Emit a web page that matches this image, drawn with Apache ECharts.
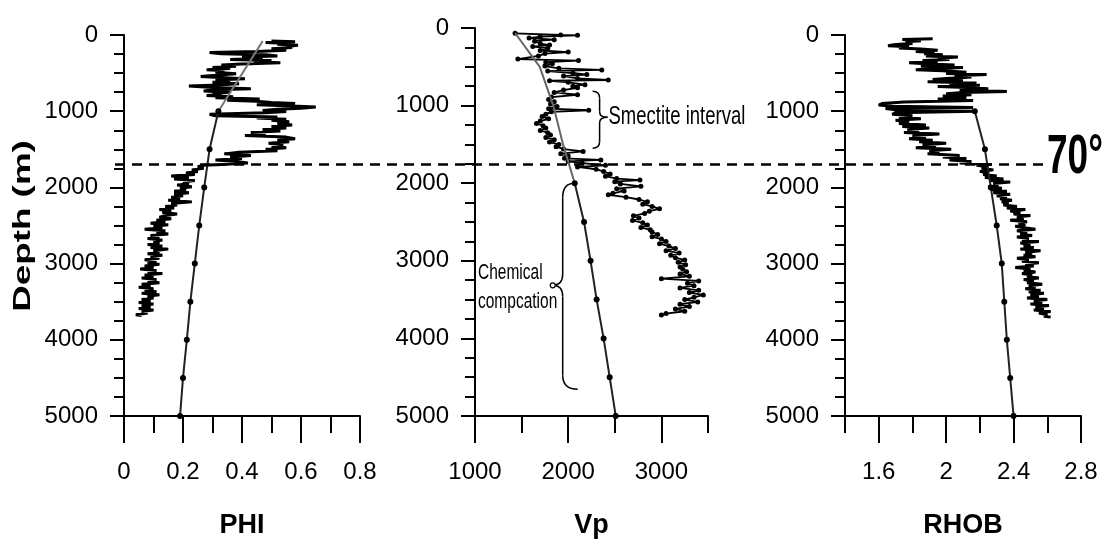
<!DOCTYPE html>
<html><head><meta charset="utf-8">
<script src="https://cdn.jsdelivr.net/npm/echarts@6/dist/echarts.min.js"></script>
<style>html,body{margin:0;padding:0;background:#fff}#c{width:1105px;height:545px}</style>
</head><body><div id="c"></div>
<script>
// ---------- data (depth m, value) ----------
const phiMajor = [0, 0.2, 0.4, 0.6, 0.8];
const phiMinor = [0.1, 0.3, 0.5, 0.7];
const vpMajor = [1000, 2000, 3000];
const vpMinor = [1500, 2500, 3500];
const rhobMajor = [1.6, 2, 2.4, 2.8];
const rhobMinor = [1.4, 1.8, 2.2, 2.6];
const xTitles = ['PHI', 'Vp', 'RHOB'];

const phiTrendUpper = [[80, 0.47], [1000, 0.32]];
const phiTrend = [[1000, 0.32], [1500, 0.29], [2000, 0.272], [2500, 0.255], [3000, 0.24], [3500, 0.225], [4000, 0.213], [4500, 0.2], [5000, 0.19]];
const vpTrendUpper = [[64, 1430], [500, 1695], [1000, 1840], [1500, 1945], [2000, 2070]];
const vpTrend = [[2000, 2070], [2500, 2170], [3000, 2240], [3500, 2305], [4000, 2380], [4500, 2445], [5000, 2510]];
const rhobTrend = [[1000, 2.17], [1500, 2.23], [2000, 2.265], [2500, 2.30], [3000, 2.33], [3500, 2.345], [4000, 2.36], [4500, 2.38], [5000, 2.40]];

const phiLog = [
[80,0.50],[90,0.58],[100,0.48],[110,0.56],[120,0.52],[135,0.59],[150,0.55],[165,0.57],[180,0.50],[200,0.55],
[215,0.45],[230,0.29],[245,0.33],[260,0.48],[275,0.52],[290,0.40],[305,0.47],[320,0.36],[335,0.50],[350,0.44],
[365,0.53],[380,0.40],[395,0.33],[410,0.38],[425,0.30],[440,0.36],[455,0.28],[470,0.34],[490,0.31],[510,0.38],
[530,0.30],[545,0.26],[560,0.34],[575,0.41],[590,0.31],[605,0.36],[620,0.30],[640,0.39],[655,0.32],[670,0.22],
[690,0.30],[705,0.43],[720,0.31],[735,0.27],[750,0.36],[765,0.30],[780,0.33],[795,0.28],[810,0.37],[825,0.31],
[840,0.46],[855,0.35],[870,0.45],[885,0.50],[900,0.58],[915,0.45],[930,0.55],[945,0.65],[960,0.60],[975,0.52],
[990,0.47],[1005,0.55],[1020,0.48],[1040,0.29],[1060,0.31],[1075,0.52],[1090,0.45],[1105,0.55],[1120,0.50],[1140,0.56],
[1160,0.52],[1180,0.57],[1200,0.50],[1220,0.55],[1240,0.47],[1260,0.53],[1280,0.43],[1300,0.48],[1320,0.41],[1340,0.55],
[1360,0.58],[1380,0.52],[1400,0.56],[1420,0.49],[1440,0.54],[1460,0.50],[1480,0.55],[1500,0.48],[1520,0.52],[1540,0.39],
[1560,0.34],[1580,0.43],[1600,0.36],[1620,0.40],[1640,0.31],[1660,0.38],[1680,0.42],[1700,0.33],[1710,0.27],[1730,0.25],
[1750,0.27],[1770,0.23],[1790,0.25],[1810,0.21],[1830,0.24],[1850,0.16],[1870,0.22],[1890,0.17],[1910,0.24],[1930,0.20],
[1950,0.22],[1970,0.18],[1990,0.23],[2010,0.19],[2030,0.21],[2050,0.17],[2070,0.22],[2090,0.17],[2110,0.20],[2130,0.16],
[2150,0.19],[2170,0.15],[2190,0.23],[2210,0.16],[2230,0.18],[2250,0.14],[2270,0.17],[2290,0.12],[2310,0.16],[2330,0.13],
[2350,0.18],[2370,0.14],[2390,0.12],[2410,0.16],[2430,0.11],[2450,0.14],[2470,0.09],[2490,0.15],[2510,0.10],[2530,0.13],
[2550,0.07],[2570,0.14],[2590,0.11],[2610,0.15],[2630,0.09],[2650,0.12],[2670,0.08],[2690,0.13],[2710,0.10],[2730,0.12],
[2750,0.08],[2770,0.13],[2790,0.09],[2810,0.15],[2830,0.10],[2850,0.12],[2870,0.08],[2890,0.13],[2910,0.09],[2930,0.12],
[2950,0.07],[2970,0.11],[2990,0.08],[3010,0.12],[3030,0.07],[3050,0.10],[3070,0.055],[3090,0.11],[3110,0.08],[3130,0.13],
[3150,0.07],[3170,0.10],[3190,0.06],[3210,0.11],[3230,0.08],[3250,0.12],[3270,0.06],[3290,0.09],[3310,0.05],[3330,0.10],
[3350,0.07],[3370,0.11],[3390,0.06],[3410,0.12],[3430,0.08],[3450,0.10],[3470,0.06],[3490,0.09],[3510,0.05],[3530,0.10],
[3550,0.06],[3570,0.09],[3590,0.05],[3610,0.10],[3630,0.06],[3650,0.08],[3670,0.04],[3680,0.06]
];

const vpLog = [
[68,1430],[90,1920],[95,2100],[110,1700],[130,1580],[150,1850],[170,1640],[200,1700],[220,1800],[240,1620],
[260,1780],[290,1700],[310,2000],[330,1750],[360,1680],[400,1460],[420,2110],[440,1760],[460,1830],[490,1750],
[520,1900],[540,2360],[555,1780],[580,2050],[600,2200],[620,1950],[650,2100],[670,2430],[680,1800],[700,2000],
[730,2180],[750,2050],[770,2100],[800,1950],[830,1850],[860,2100],[890,1820],[920,1790],[950,1850],[980,1810],
[1010,1880],[1040,1790],[1060,2220],[1080,1820],[1110,1760],[1140,1720],[1170,1790],[1200,1700],[1230,1660],[1260,1730],
[1290,1760],[1320,1700],[1350,1780],[1380,1810],[1410,1760],[1440,1850],[1470,1800],[1500,1900],[1530,1870],[1560,1950],
[1590,2160],[1620,1920],[1650,2000],[1680,1960],[1700,2350],[1720,2000],[1740,2150],[1770,2400],[1790,2100],[1820,2300],
[1850,2380],[1880,2450],[1910,2400],[1940,2520],[1960,2770],[1980,2500],[2010,2560],[2040,2780],[2070,2520],[2100,2600],
[2130,2480],[2150,2430],[2180,2620],[2210,2760],[2240,2850],[2270,2800],[2300,2900],[2330,2980],[2360,2870],[2390,2820],
[2420,2700],[2450,2760],[2480,2690],[2510,2800],[2540,2850],[2570,2780],[2600,2880],[2630,2900],[2660,2960],[2690,2900],
[2720,3000],[2750,3050],[2780,2980],[2810,3080],[2840,3150],[2870,3050],[2900,3190],[2930,3100],[2960,3150],[2990,3250],
[3020,3180],[3050,3260],[3080,3200],[3110,3230],[3140,3270],[3170,3200],[3200,3300],[3230,3000],[3260,3400],[3290,3280],
[3320,3350],[3350,3200],[3380,3400],[3410,3300],[3440,3450],[3470,3350],[3500,3250],[3530,3390],[3560,3200],[3590,3300],
[3620,3150],[3650,3250],[3680,3050],[3700,3000]
];

const rhobLog = [
[50,1.92],[60,1.74],[75,1.85],[90,1.76],[110,1.80],[125,1.70],[140,1.655],[155,1.78],[170,1.72],[185,1.85],
[200,1.95],[215,1.82],[230,1.93],[245,1.87],[260,1.98],[275,1.88],[290,2.07],[305,1.95],[320,2.02],[335,1.86],
[350,1.95],[365,1.78],[380,1.90],[395,2.05],[410,1.85],[425,2.10],[440,1.96],[455,1.82],[470,1.98],[490,2.12],
[505,2.00],[520,2.24],[535,2.05],[550,2.15],[570,2.00],[585,1.92],[600,2.10],[615,1.89],[630,2.18],[645,2.02],
[660,2.20],[675,1.95],[690,2.12],[705,2.25],[720,2.08],[740,2.36],[755,2.10],[770,2.00],[785,2.15],[800,1.98],
[820,2.12],[840,1.95],[860,2.16],[880,1.75],[900,1.62],[920,1.60],[935,1.68],[950,2.16],[965,1.64],[980,1.70],
[1000,2.17],[1020,1.70],[1040,1.68],[1060,1.80],[1080,1.72],[1100,1.85],[1120,1.70],[1140,1.78],[1160,1.72],[1180,1.88],
[1200,1.74],[1220,1.90],[1240,1.77],[1260,1.84],[1280,1.75],[1300,1.96],[1320,1.80],[1340,1.88],[1360,1.78],[1380,1.92],
[1400,1.84],[1420,2.00],[1440,1.86],[1460,1.94],[1480,1.82],[1500,2.03],[1520,1.90],[1540,1.96],[1560,1.89],[1580,2.08],
[1600,1.98],[1620,2.12],[1640,2.02],[1660,2.15],[1680,2.08],[1700,2.27],[1710,2.18],[1730,2.25],[1750,2.21],[1770,2.28],
[1790,2.20],[1810,2.25],[1830,2.22],[1850,2.30],[1870,2.23],[1890,2.34],[1910,2.26],[1930,2.38],[1950,2.28],[1970,2.31],
[1990,2.25],[2010,2.33],[2030,2.27],[2050,2.36],[2070,2.28],[2090,2.38],[2110,2.30],[2130,2.36],[2150,2.32],[2170,2.39],
[2190,2.33],[2210,2.37],[2230,2.34],[2250,2.42],[2270,2.36],[2290,2.47],[2310,2.38],[2330,2.44],[2350,2.40],[2370,2.50],
[2390,2.42],[2410,2.46],[2430,2.38],[2450,2.48],[2470,2.43],[2490,2.47],[2510,2.41],[2530,2.46],[2550,2.53],[2570,2.42],
[2590,2.48],[2610,2.44],[2630,2.51],[2650,2.42],[2670,2.49],[2690,2.45],[2710,2.55],[2730,2.44],[2750,2.50],[2770,2.46],
[2790,2.52],[2810,2.44],[2830,2.56],[2850,2.47],[2870,2.51],[2890,2.46],[2910,2.53],[2930,2.42],[2950,2.49],[2970,2.45],
[2990,2.55],[3010,2.47],[3030,2.52],[3050,2.41],[3070,2.50],[3090,2.46],[3110,2.53],[3130,2.45],[3150,2.51],[3170,2.48],
[3190,2.55],[3210,2.46],[3230,2.52],[3250,2.48],[3270,2.57],[3290,2.49],[3310,2.53],[3330,2.47],[3350,2.56],[3370,2.49],
[3390,2.58],[3410,2.50],[3430,2.55],[3450,2.48],[3470,2.60],[3490,2.52],[3510,2.57],[3530,2.50],[3550,2.61],[3570,2.53],
[3590,2.58],[3610,2.52],[3630,2.62],[3650,2.55],[3670,2.60],[3690,2.58],[3700,2.62]
];

const boundaryDepth = 1700;
// annotation anchor points in Vp panel data coordinates [Vp, depth]
const smectiteBrace = {x0: 2262, x1: 2337, x2: 2422, top: 816, mid: 1151, bottom: 1550};
const chemBrace = {xTop: 2070, xV: 1941, xTip: 1834, xBot: 2102, top: 2001, mid: 3316, bottom: 4655};
const chemTextAt = [1032, 3335];

// ---------- chart ----------
const ARIAL = "'Liberation Sans',Arial,sans-serif";
const BLACK = '#000';
const toXY = arr => arr.map(p => [p[1], p[0]]);
const plain = v => String(Math.round(v * 1000) / 1000);

const grids = [
  {left: 124, top: 35, width: 236, height: 381},
  {left: 475, top: 28, width: 233, height: 388},
  {left: 845, top: 35, width: 236, height: 381}
];
const ranges = [[0, 0.8, phiMajor, phiMinor], [1000, 3500, vpMajor, vpMinor], [1.4, 2.8, rhobMajor, rhobMinor]];

const xAxes = [], yAxes = [];
ranges.forEach((r, g) => {
  xAxes.push({
    type: 'value', gridIndex: g, min: r[0], max: r[1], position: 'bottom',
    axisLine: {show: true, onZero: false, lineStyle: {color: BLACK, width: 2}},
    axisTick: {show: true, customValues: r[2], length: 27, lineStyle: {color: BLACK, width: 2}},
    axisLabel: {customValues: r[2], formatter: plain, margin: 44, fontSize: 24, color: BLACK, fontFamily: ARIAL},
    splitLine: {show: false},
    name: xTitles[g], nameLocation: 'middle', nameGap: 96,
    nameTextStyle: {fontSize: 27, fontWeight: 'bold', fontFamily: ARIAL, color: BLACK}
  });
  xAxes.push({
    type: 'value', gridIndex: g, min: r[0], max: r[1], position: 'bottom',
    axisLine: {show: false, onZero: false},
    axisTick: {show: true, customValues: r[3], length: 17, lineStyle: {color: BLACK, width: 2}},
    axisLabel: {show: false}, splitLine: {show: false}
  });
  yAxes.push({
    type: 'value', gridIndex: g, inverse: true, min: 0, max: 5000, interval: 1000,
    axisLine: {show: true, onZero: false, lineStyle: {color: BLACK, width: 2}},
    axisTick: {show: true, length: 14, lineStyle: {color: BLACK, width: 2}},
    minorTick: {show: true, splitNumber: 4, length: 10, lineStyle: {color: BLACK, width: 2}},
    axisLabel: {formatter: plain, margin: 26, fontSize: 24, color: BLACK, fontFamily: ARIAL},
    splitLine: {show: false}, minorSplitLine: {show: false}
  });
});

const logLine = (data, xi, yi, w) => ({
  type: 'line', xAxisIndex: xi, yAxisIndex: yi, data: toXY(data), showSymbol: false,
  lineStyle: {color: BLACK, width: w}, z: 2, silent: true
});
const trendLine = (data, xi, yi, color, marks) => ({
  type: 'line', xAxisIndex: xi, yAxisIndex: yi, data: toXY(data),
  showSymbol: marks, symbol: 'circle', symbolSize: 6,
  itemStyle: {color: BLACK}, lineStyle: {color: color, width: 2}, z: 4, silent: true
});

const series = [
  logLine(phiLog, 0, 0, 3),
  trendLine(phiTrendUpper, 0, 0, '#777', false),
  trendLine(phiTrend, 0, 0, '#222', true),
  {
    type: 'line', xAxisIndex: 2, yAxisIndex: 1, data: toXY(vpLog),
    symbol: 'circle', symbolSize: 5, itemStyle: {color: BLACK},
    lineStyle: {color: BLACK, width: 1.8}, z: 2, silent: true
  },
  trendLine(vpTrendUpper, 2, 1, '#666', false),
  trendLine(vpTrend, 2, 1, '#222', true),
  logLine(rhobLog, 4, 2, 3),
  trendLine(rhobTrend, 4, 2, '#222', true)
];

const chart = echarts.init(document.getElementById('c'), null, {renderer: 'canvas'});
chart.setOption({
  animation: false,
  backgroundColor: '#fff',
  grid: grids.map(g => Object.assign({outerBoundsMode: 'none', containLabel: false}, g)),
  xAxis: xAxes, yAxis: yAxes, series: series
});

// ---------- annotations (positions derived from the axes) ----------
const vpPx = (v, d) => chart.convertToPixel({xAxisIndex: 2, yAxisIndex: 1}, [v, d]);
const yB = chart.convertToPixel({xAxisIndex: 0, yAxisIndex: 0}, [0, boundaryDepth])[1];
const xStart = chart.convertToPixel({xAxisIndex: 0, yAxisIndex: 0}, [0, 0])[0] - 9;
const xEnd = chart.convertToPixel({xAxisIndex: 4, yAxisIndex: 2}, [2.8, 0])[0] - 36;

const stroke = {stroke: BLACK, lineWidth: 1.5, fill: null};
const seg = (x1, y1, x2, y2) => ({type: 'line', silent: true, z: 10, shape: {x1, y1, x2, y2}, style: stroke});
const curve = (x1, y1, cx, cy, x2, y2) => ({type: 'bezierCurve', silent: true, z: 10,
  shape: {x1, y1, cpx1: cx, cpy1: cy, x2, y2}, style: stroke});
// brace: ends at xe, spine at xs, tip at xt; r = corner radius
function brace(xeTop, xs, xt, xeBot, yT, yM, yB2, r) {
  return [
    curve(xeTop, yT, xs, yT, xs, yT + r),
    seg(xs, yT + r, xs, yM - r * 0.8),
    curve(xs, yM - r * 0.8, xs, yM, xt, yM),
    curve(xt, yM, xs, yM, xs, yM + r * 0.8),
    seg(xs, yM + r * 0.8, xs, yB2 - r),
    curve(xs, yB2 - r, xs, yB2, xeBot, yB2)
  ];
}

const s = smectiteBrace;
const sx0 = vpPx(s.x0, 0)[0], sx1 = vpPx(s.x1, 0)[0], sx2 = vpPx(s.x2, 0)[0];
const sTop = vpPx(s.x0, s.top)[1], sMid = vpPx(s.x0, s.mid)[1], sBot = vpPx(s.x0, s.bottom)[1];

const c = chemBrace;
const cxT = vpPx(c.xTop, 0)[0], cxV = vpPx(c.xV, 0)[0], cxTip = vpPx(c.xTip, 0)[0], cxB = vpPx(c.xBot, 0)[0];
const cTop = vpPx(c.xV, c.top)[1], cMid = vpPx(c.xV, c.mid)[1], cBot = vpPx(c.xV, c.bottom)[1];
const chemPos = vpPx(chemTextAt[0], chemTextAt[1]);

const graphics = [
  {type: 'line', silent: true, z: 10, shape: {x1: xStart, y1: yB, x2: xEnd, y2: yB},
    style: {stroke: BLACK, lineWidth: 2.6, lineDash: [10, 7]}},
  {type: 'text', silent: true, x: 1047, y: 158, scaleY: 1.5, z: 10,
    style: {text: '70°', font: "bold 37px " + ARIAL, fill: BLACK, textAlign: 'left', textVerticalAlign: 'middle'}},
  {type: 'text', silent: true, x: 24, y: 226, rotation: Math.PI / 2, scaleX: 1.6, z: 10,
    style: {text: 'Depth (m)', font: "bold 23px " + ARIAL, fill: BLACK, textAlign: 'center', textVerticalAlign: 'middle'}},
  {type: 'text', silent: true, x: sx2 + 1, y: sMid, scaleY: 1.35, z: 10,
    style: {text: 'Smectite interval', font: "18.5px " + ARIAL, fill: BLACK, textAlign: 'left', textVerticalAlign: 'middle'}},
  {type: 'circle', silent: true, z: 11, shape: {cx: cxTip, cy: cMid, r: 2.5}, style: {stroke: BLACK, lineWidth: 1.2, fill: '#fff'}},
  {type: 'text', silent: true, x: chemPos[0], y: chemPos[1], scaleY: 1.45, z: 10,
    style: {text: 'Chemical\ncompcation', font: "15.5px " + ARIAL, lineHeight: 20, fill: BLACK, textAlign: 'left', textVerticalAlign: 'middle'}}
].concat(brace(sx0, sx1, sx2, sx0, sTop, sMid, sBot, 7))
 .concat(brace(cxT, cxV, cxTip, cxB, cTop, cMid, cBot, 14));

chart.setOption({graphic: graphics});
</script>
</body></html>
